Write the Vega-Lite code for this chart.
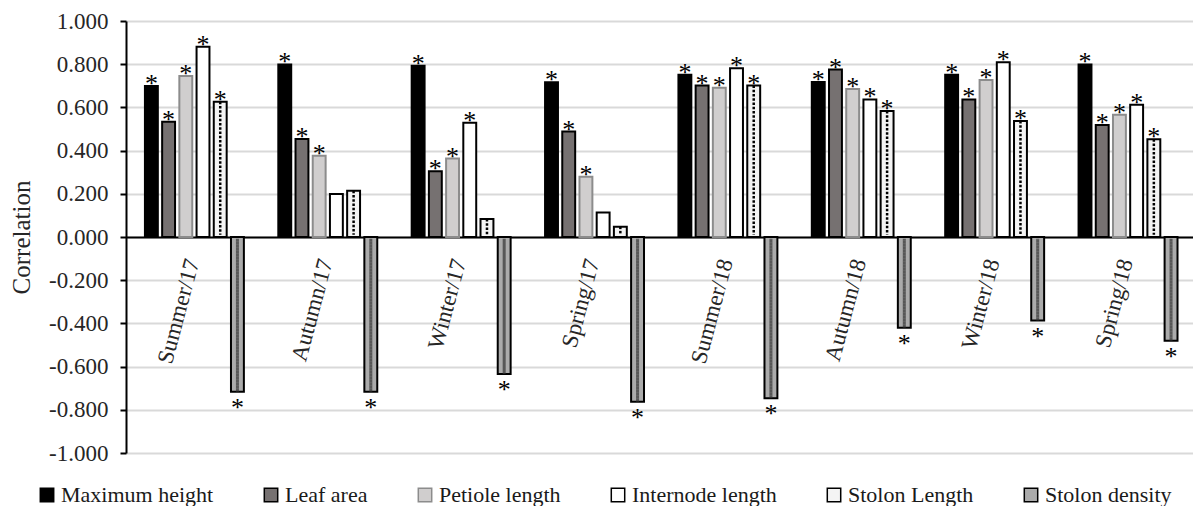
{
  "$schema": "https://vega.github.io/schema/vega-lite/v6.json",
  "width": 1067,
  "height": 432,
  "autosize": {"type": "none"},
  "padding": {"left": 126, "top": 21, "right": 0, "bottom": 53},
  "background": "#ffffff",
  "config": {
    "view": {"stroke": null},
    "font": "Liberation Serif",
    "legend": {
      "orient": "none",
      "legendX": -90,
      "legendY": 463,
      "direction": "horizontal",
      "columns": 6,
      "columnPadding": 46,
      "symbolType": "square",
      "symbolSize": 180,
      "symbolStrokeWidth": 1.5,
      "labelFont": "Liberation Serif",
      "labelFontSize": 22,
      "labelColor": "#1a1a1a",
      "labelOffset": 3,
      "labelLimit": 400
    }
  },
  "data": {
    "values": [
      {"season": "Summer/17", "trait": "Maximum height", "value": 0.699, "sig": "*"},
      {"season": "Summer/17", "trait": "Leaf area", "value": 0.534, "sig": "*"},
      {"season": "Summer/17", "trait": "Petiole length", "value": 0.745, "sig": "*"},
      {"season": "Summer/17", "trait": "Internode length", "value": 0.881, "sig": "*"},
      {"season": "Summer/17", "trait": "Stolon Length", "value": 0.626, "sig": "*"},
      {"season": "Summer/17", "trait": "Stolon density", "value": -0.716, "sig": "*"},
      {"season": "Autumn/17", "trait": "Maximum height", "value": 0.799, "sig": "*"},
      {"season": "Autumn/17", "trait": "Leaf area", "value": 0.454, "sig": "*"},
      {"season": "Autumn/17", "trait": "Petiole length", "value": 0.376, "sig": "*"},
      {"season": "Autumn/17", "trait": "Internode length", "value": 0.199, "sig": ""},
      {"season": "Autumn/17", "trait": "Stolon Length", "value": 0.214, "sig": ""},
      {"season": "Autumn/17", "trait": "Stolon density", "value": -0.716, "sig": "*"},
      {"season": "Winter/17", "trait": "Maximum height", "value": 0.793, "sig": "*"},
      {"season": "Winter/17", "trait": "Leaf area", "value": 0.304, "sig": "*"},
      {"season": "Winter/17", "trait": "Petiole length", "value": 0.363, "sig": "*"},
      {"season": "Winter/17", "trait": "Internode length", "value": 0.529, "sig": "*"},
      {"season": "Winter/17", "trait": "Stolon Length", "value": 0.083, "sig": ""},
      {"season": "Winter/17", "trait": "Stolon density", "value": -0.634, "sig": "*"},
      {"season": "Spring/17", "trait": "Maximum height", "value": 0.716, "sig": "*"},
      {"season": "Spring/17", "trait": "Leaf area", "value": 0.488, "sig": "*"},
      {"season": "Spring/17", "trait": "Petiole length", "value": 0.279, "sig": "*"},
      {"season": "Spring/17", "trait": "Internode length", "value": 0.114, "sig": ""},
      {"season": "Spring/17", "trait": "Stolon Length", "value": 0.048, "sig": ""},
      {"season": "Spring/17", "trait": "Stolon density", "value": -0.763, "sig": "*"},
      {"season": "Summer/18", "trait": "Maximum height", "value": 0.751, "sig": "*"},
      {"season": "Summer/18", "trait": "Leaf area", "value": 0.701, "sig": "*"},
      {"season": "Summer/18", "trait": "Petiole length", "value": 0.691, "sig": "*"},
      {"season": "Summer/18", "trait": "Internode length", "value": 0.781, "sig": "*"},
      {"season": "Summer/18", "trait": "Stolon Length", "value": 0.701, "sig": "*"},
      {"season": "Summer/18", "trait": "Stolon density", "value": -0.747, "sig": "*"},
      {"season": "Autumn/18", "trait": "Maximum height", "value": 0.718, "sig": "*"},
      {"season": "Autumn/18", "trait": "Leaf area", "value": 0.775, "sig": "*"},
      {"season": "Autumn/18", "trait": "Petiole length", "value": 0.685, "sig": "*"},
      {"season": "Autumn/18", "trait": "Internode length", "value": 0.637, "sig": "*"},
      {"season": "Autumn/18", "trait": "Stolon Length", "value": 0.583, "sig": "*"},
      {"season": "Autumn/18", "trait": "Stolon density", "value": -0.420, "sig": "*"},
      {"season": "Winter/18", "trait": "Maximum height", "value": 0.751, "sig": "*"},
      {"season": "Winter/18", "trait": "Leaf area", "value": 0.637, "sig": "*"},
      {"season": "Winter/18", "trait": "Petiole length", "value": 0.727, "sig": "*"},
      {"season": "Winter/18", "trait": "Internode length", "value": 0.809, "sig": "*"},
      {"season": "Winter/18", "trait": "Stolon Length", "value": 0.537, "sig": "*"},
      {"season": "Winter/18", "trait": "Stolon density", "value": -0.387, "sig": "*"},
      {"season": "Spring/18", "trait": "Maximum height", "value": 0.799, "sig": "*"},
      {"season": "Spring/18", "trait": "Leaf area", "value": 0.519, "sig": "*"},
      {"season": "Spring/18", "trait": "Petiole length", "value": 0.566, "sig": "*"},
      {"season": "Spring/18", "trait": "Internode length", "value": 0.612, "sig": "*"},
      {"season": "Spring/18", "trait": "Stolon Length", "value": 0.452, "sig": "*"},
      {"season": "Spring/18", "trait": "Stolon density", "value": -0.480, "sig": "*"}
    ]
  },
  "encoding": {
    "x": {
      "field": "season",
      "type": "nominal",
      "sort": null,
      "scale": {"paddingInner": 0, "paddingOuter": 0},
      "axis": {
        "title": null,
        "orient": "bottom",
        "offset": -216,
        "ticks": false,
        "domainColor": "#000000",
        "domainWidth": 2,
        "labelAngle": -75,
        "labelFont": "Liberation Serif",
        "labelFontSize": 23,
        "labelColor": "#262626",
        "labelPadding": 22,
        "grid": false
      }
    },
    "xOffset": {
      "field": "trait",
      "type": "nominal",
      "scale": {
        "domain": ["Maximum height", "Leaf area", "Petiole length", "Internode length", "Stolon Length", "Stolon density"],
        "paddingInner": 0.25,
        "paddingOuter": 1.14,
        "align": 0.55
      }
    }
  },
  "layer": [
    {
      "mark": {"type": "bar", "strokeWidth": 2},
      "encoding": {
        "y": {
          "field": "value",
          "type": "quantitative",
          "scale": {"domain": [-1, 1], "nice": false},
          "axis": {
            "title": "Correlation",
            "titleFont": "Liberation Serif",
            "titleFontSize": 25,
            "titleFontWeight": "normal",
            "titleColor": "#262626",
            "titlePadding": 14,
            "values": [-1, -0.8, -0.6, -0.4, -0.2, 0, 0.2, 0.4, 0.6, 0.8, 1],
            "labelExpr": "replace(format(datum.value, '.3f'), '\u2212', '-')",
            "labelFont": "Liberation Serif",
            "labelFontSize": 23,
            "labelColor": "#262626",
            "labelPadding": 12,
            "tickColor": "#000000",
            "tickSize": 6,
            "tickWidth": 2,
            "domainColor": "#000000",
            "domainWidth": 2,
            "gridColor": "#d9d9d9",
            "gridWidth": 2
          }
        },
        "fill": {
          "field": "trait",
          "type": "nominal",
          "title": null,
          "scale": {
            "domain": ["Maximum height", "Leaf area", "Petiole length", "Internode length", "Stolon Length", "Stolon density"],
            "range": ["#000000", "#767171", "#d0cece", "#ffffff", "#f4f4f4", "#ababab"]
          }
        },
        "stroke": {
          "field": "trait",
          "type": "nominal",
          "title": null,
          "scale": {
            "domain": ["Maximum height", "Leaf area", "Petiole length", "Internode length", "Stolon Length", "Stolon density"],
            "range": ["#000000", "#000000", "#8c8c8c", "#000000", "#000000", "#000000"]
          }
        }
      }
    },
    {
      "transform": [{"filter": "datum.trait === 'Stolon Length'"}],
      "mark": {"type": "rule", "strokeWidth": 2.5, "strokeDash": [2.5, 6], "color": "#000000", "xOffset": -2.5},
      "encoding": {
        "y": {"field": "value", "type": "quantitative"},
        "y2": {"datum": 0.01}
      }
    },
    {
      "transform": [{"filter": "datum.trait === 'Stolon Length'"}],
      "mark": {"type": "rule", "strokeWidth": 2.5, "strokeDash": [2.5, 6], "strokeDashOffset": 4.25, "color": "#000000", "xOffset": 2.5},
      "encoding": {
        "y": {"field": "value", "type": "quantitative"},
        "y2": {"datum": 0.01}
      }
    },
    {
      "transform": [{"filter": "datum.trait === 'Stolon density'"}],
      "mark": {"type": "rule", "strokeWidth": 3, "strokeDash": [3, 3], "color": "#333333", "opacity": 0.7, "xOffset": -2.5},
      "encoding": {
        "y": {"field": "value", "type": "quantitative"},
        "y2": {"datum": -0.008}
      }
    },
    {
      "transform": [{"filter": "datum.trait === 'Stolon density'"}],
      "mark": {"type": "rule", "strokeWidth": 3, "strokeDash": [3, 3], "strokeDashOffset": 3, "color": "#333333", "opacity": 0.7, "xOffset": 2.5},
      "encoding": {
        "y": {"field": "value", "type": "quantitative"},
        "y2": {"datum": -0.008}
      }
    },
    {
      "transform": [{"filter": "datum.value >= 0 && datum.sig === '*'"}],
      "mark": {"type": "text", "baseline": "alphabetic", "dy": 6, "fontSize": 26, "font": "Liberation Serif", "color": "#000000"},
      "encoding": {
        "y": {"field": "value", "type": "quantitative"},
        "text": {"field": "sig"}
      }
    },
    {
      "transform": [{"filter": "datum.value < 0 && datum.sig === '*'"}],
      "mark": {"type": "text", "baseline": "alphabetic", "dy": 24, "fontSize": 26, "font": "Liberation Serif", "color": "#000000"},
      "encoding": {
        "y": {"field": "value", "type": "quantitative"},
        "text": {"field": "sig"}
      }
    }
  ]
}
